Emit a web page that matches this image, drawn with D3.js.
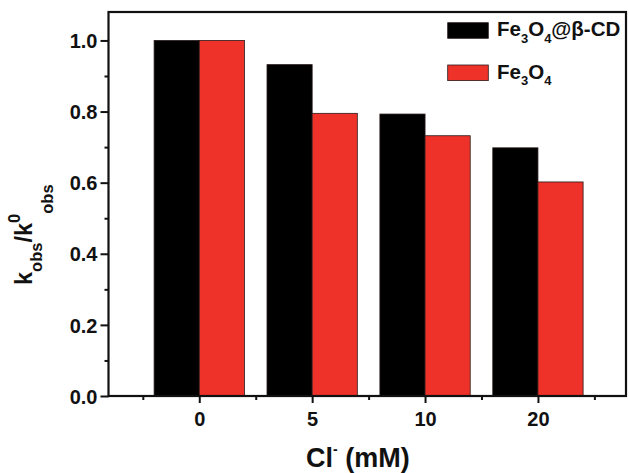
<!DOCTYPE html>
<html><head><meta charset="utf-8">
<script src="https://cdn.jsdelivr.net/npm/d3@7"></script>
<style>
html,body{margin:0;padding:0;background:#fff;}
text{font-family:"Liberation Sans",Arial,sans-serif;font-weight:bold;fill:#111;}
</style></head>
<body><svg id="c" width="629" height="473"></svg>
<script>
const categories = ["0", "5", "10", "20"];
const seriesNames = ["Fe3O4@β-CD", "Fe3O4"];
const betaCD = [1.0, 0.932, 0.793, 0.698];
const bare = [1.0, 0.795, 0.732, 0.602];
const yTicks = [0.0, 0.2, 0.4, 0.6, 0.8, 1.0];
const yMinor = [0.1, 0.3, 0.5, 0.7, 0.9];
const colors = ["#000000", "#ee3229"];

const svg = d3.select("#c");
const L = 108.5, R = 626, T = 12, B = 396;
const x = d3.scaleLinear().domain([0.196, 4.78]).range([L, R]);
const y = d3.scaleLinear().domain([0, 1.08]).range([B, T]);
const bw = 0.4;
const FONT = "Liberation Sans, Arial, sans-serif";

const series = [betaCD, bare];
series.forEach((vals, si) => {
  svg.append("g").selectAll("rect").data(vals).join("rect")
    .attr("x", (d, i) => x(i + 1 + (si === 0 ? -bw : 0)))
    .attr("width", x(bw) - x(0))
    .attr("y", d => y(d))
    .attr("height", d => y(0) - y(d))
    .attr("fill", colors[si])
    .attr("stroke", "#2a1a1a").attr("stroke-width", 0.8);
});

// frame
svg.append("rect").attr("x", L).attr("y", T).attr("width", R - L).attr("height", B - T)
  .attr("fill", "none").attr("stroke", "#111").attr("stroke-width", 2.2);

// y axis
const yAxis = d3.axisLeft(y).tickValues(yTicks).tickFormat(d3.format(".1f")).tickSize(8).tickPadding(3);
const gy = svg.append("g").attr("transform", `translate(${L},0)`).call(yAxis);
gy.select(".domain").remove();
gy.selectAll("line").attr("stroke", "#111").attr("stroke-width", 2);
gy.selectAll("text").attr("font-size", 20).attr("font-family", FONT).attr("font-weight", "bold").attr("fill", "#111").attr("dy", "0.36em");
const gym = svg.append("g").attr("transform", `translate(${L},0)`).call(d3.axisLeft(y).tickValues(yMinor).tickSize(4).tickFormat(""));
gym.select(".domain").remove();
gym.selectAll("line").attr("stroke", "#111").attr("stroke-width", 2);

// x axis
const xAxis = d3.axisBottom(x).tickValues([1, 2, 3, 4]).tickFormat((d, i) => categories[i]).tickSize(7).tickPadding(9);
const gx = svg.append("g").attr("transform", `translate(0,${B})`).call(xAxis);
gx.select(".domain").remove();
gx.selectAll("line").attr("stroke", "#111").attr("stroke-width", 2);
gx.selectAll("text").attr("font-size", 20).attr("font-family", FONT).attr("font-weight", "bold").attr("fill", "#111");
const gxm = svg.append("g").attr("transform", `translate(0,${B})`).call(d3.axisBottom(x).tickValues([0.5, 1.5, 2.5, 3.5, 4.5]).tickSize(4).tickFormat(""));
gxm.select(".domain").remove();
gxm.selectAll("line").attr("stroke", "#111").attr("stroke-width", 2);

// x title
const xt = svg.append("text").attr("x", 306).attr("y", 467).attr("font-size", 27);
xt.append("tspan").text("Cl");
xt.append("tspan").text("-").attr("font-size", 14).attr("dy", -13);
xt.append("tspan").text(" (mM)").attr("dy", 13);

// y title
const yt = svg.append("text").attr("transform", "translate(32,285) rotate(-90)").attr("font-size", 23.5);
yt.append("tspan").text("k");
yt.append("tspan").text("obs").attr("font-size", 16.5).attr("dy", 10);
yt.append("tspan").text("/k").attr("dy", -10);
yt.append("tspan").text("0").attr("font-size", 16.5).attr("dy", -12);
yt.append("tspan").text("obs").attr("font-size", 16.5).attr("dy", 33);

// legend
const leg = svg.append("g");
const legY = [22.7, 65];
seriesNames.forEach((n, i) => {
  leg.append("rect").attr("x", 447.7).attr("y", legY[i]).attr("width", 40.6).attr("height", 15.6)
    .attr("fill", colors[i]).attr("stroke", "#2a1a1a").attr("stroke-width", 0.8);
  const t = leg.append("text").attr("x", 497).attr("y", legY[i] + 13.5).attr("font-size", 20.5);
  t.append("tspan").text("Fe");
  t.append("tspan").text("3").attr("font-size", 13).attr("dy", 6.5);
  t.append("tspan").text("O").attr("dy", -6.5);
  t.append("tspan").text("4").attr("font-size", 13).attr("dy", 6.5);
  if (i === 0) t.append("tspan").text("@β-CD").attr("dy", -6.5);
});
</script></body></html>
